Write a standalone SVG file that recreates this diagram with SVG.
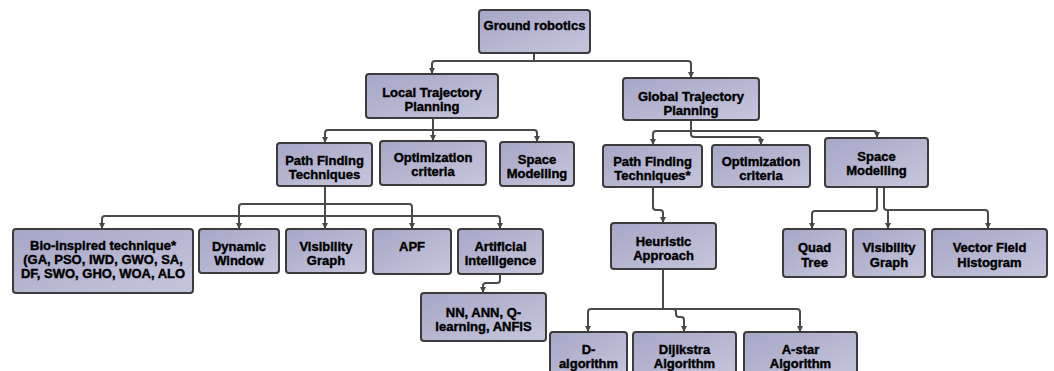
<svg xmlns="http://www.w3.org/2000/svg" width="1054" height="371" viewBox="0 0 1054 371">
<defs>
<linearGradient id="g" x1="0" y1="0" x2="1" y2="1">
<stop offset="0" stop-color="#a6a6c7"/>
<stop offset="1" stop-color="#c6c6dc"/>
</linearGradient>
<marker id="ar" viewBox="0 0 8 8" refX="8" refY="4" markerWidth="6" markerHeight="6" markerUnits="userSpaceOnUse" orient="auto">
<path d="M0,0 L8,4 L0,8 z" fill="#474747"/>
</marker>
<style>
.n rect{fill:url(#g);stroke:#3c3c3c;stroke-width:2}
.n text{font-family:"Liberation Sans",Arial,sans-serif;font-weight:bold;font-size:13px;fill:#000;stroke:#000;stroke-width:0.4;text-anchor:middle}
#connectors path{fill:none;stroke:#4a4a4a;stroke-width:2;stroke-linejoin:round}
#connectors path.a{marker-end:url(#ar)}
</style>
</defs>
<rect width="1054" height="371" fill="#fff"/>
<g id="connectors">
<path d="M534,53 V61"/>
<path class="a" d="M534,61 H435 Q432,61 432,64 V74"/>
<path class="a" d="M534,61 H688 Q691,61 691,64 V78"/>
<path class="a" d="M433,118 V141"/>
<path class="a" d="M433,130 H328 Q325,130 325,133 V143"/>
<path class="a" d="M433,130 H534 Q537,130 537,133 V142"/>
<path class="a" d="M691,120 V134 Q691,137 694,137 H758 Q761,137 761,140 V145"/>
<path class="a" d="M691,131 H656 Q653,131 653,134 V145"/>
<path class="a" d="M691,131 H874 Q877,131 877,134 V138"/>
<path class="a" d="M325,186 V229"/>
<path class="a" d="M325,204 H242 Q239,204 239,207 V229"/>
<path class="a" d="M325,204 H409 Q412,204 412,207 V229"/>
<path class="a" d="M325,216 H105 Q102,216 102,219 V229"/>
<path class="a" d="M325,216 H497 Q500,216 500,219 V229"/>
<path class="a" d="M500,274 V280 Q500,283 497,283 H486 Q483,283 483,286 V293"/>
<path class="a" d="M653,187 V207 Q653,210 656,210 H660 Q663,210 663,213 V223"/>
<path class="a" d="M663,269 V309 H591 Q588,309 588,312 V332"/>
<path class="a" d="M663,309 H673 Q676,309 676,312 V314 Q676,317 679,317 H681 Q684,317 684,320 V332"/>
<path class="a" d="M663,309 H797 Q800,309 800,312 V332"/>
<path class="a" d="M877,187 V208 Q877,211 874,211 H815 Q812,211 812,214 V229"/>
<path class="a" d="M884,187 V207 Q884,210 887,210 H985 Q988,210 988,213 V229"/>
<path class="a" d="M888,210 V229"/>
</g>
<g id="ground" class="n"><rect x="479" y="10" width="111" height="43" rx="3"/><text x="534.5" y="30">Ground robotics</text></g>
<g id="local" class="n"><rect x="366" y="74" width="132" height="44" rx="3"/><text x="432" y="97">Local Trajectory</text><text x="432" y="111">Planning</text></g>
<g id="global" class="n"><rect x="623" y="78" width="136" height="42" rx="3"/><text x="691" y="101">Global Trajectory</text><text x="691" y="115">Planning</text></g>
<g id="pft_local" class="n"><rect x="277" y="143" width="95" height="43" rx="3"/><text x="324.5" y="165">Path Finding</text><text x="324.5" y="179">Techniques</text></g>
<g id="opt_local" class="n"><rect x="380" y="141" width="106" height="44" rx="3"/><text x="433" y="162">Optimization</text><text x="433" y="176">criteria</text></g>
<g id="sm_local" class="n"><rect x="500" y="142" width="74" height="44" rx="3"/><text x="537" y="164">Space</text><text x="537" y="178">Modelling</text></g>
<g id="pft_global" class="n"><rect x="603" y="145" width="99" height="42" rx="3"/><text x="652.5" y="166">Path Finding</text><text x="652.5" y="180">Techniques*</text></g>
<g id="opt_global" class="n"><rect x="712" y="145" width="98" height="42" rx="3"/><text x="761" y="166">Optimization</text><text x="761" y="180">criteria</text></g>
<g id="sm_global" class="n"><rect x="825" y="138" width="103" height="49" rx="3"/><text x="876.5" y="161">Space</text><text x="876.5" y="175">Modelling</text></g>
<g id="bio" class="n"><rect x="13" y="229" width="180" height="64" rx="3"/><text x="103" y="250">Bio-inspired technique*</text><text x="103" y="264">(GA, PSO, IWD, GWO, SA,</text><text x="103" y="278">DF, SWO, GHO, WOA, ALO</text></g>
<g id="dw" class="n"><rect x="199" y="229" width="80" height="44" rx="3"/><text x="239" y="251">Dynamic</text><text x="239" y="265">Window</text></g>
<g id="vg_local" class="n"><rect x="286" y="229" width="80" height="44" rx="3"/><text x="326" y="251">Visibility</text><text x="326" y="265">Graph</text></g>
<g id="apf" class="n"><rect x="373" y="229" width="78" height="45" rx="3"/><text x="412" y="251">APF</text></g>
<g id="ai" class="n"><rect x="458" y="229" width="85" height="45" rx="3"/><text x="500.5" y="251">Artificial</text><text x="500.5" y="265">intelligence</text></g>
<g id="nn" class="n"><rect x="421" y="293" width="125" height="48" rx="3"/><text x="483.5" y="317">NN, ANN, Q-</text><text x="483.5" y="331">learning, ANFIS</text></g>
<g id="heuristic" class="n"><rect x="611" y="223" width="105" height="46" rx="3"/><text x="663.5" y="246">Heuristic</text><text x="663.5" y="260">Approach</text></g>
<g id="quad" class="n"><rect x="783" y="229" width="63" height="48" rx="3"/><text x="814.5" y="252">Quad</text><text x="814.5" y="267">Tree</text></g>
<g id="vg_global" class="n"><rect x="853" y="229" width="72" height="48" rx="3"/><text x="889" y="252">Visibility</text><text x="889" y="267">Graph</text></g>
<g id="vfh" class="n"><rect x="932" y="229" width="115" height="48" rx="3"/><text x="989.5" y="252">Vector Field</text><text x="989.5" y="267">Histogram</text></g>
<g id="dalg" class="n"><rect x="550" y="332" width="77" height="48" rx="3"/><text x="588.5" y="354">D-</text><text x="588.5" y="368">algorithm</text></g>
<g id="dijkstra" class="n"><rect x="633" y="332" width="103" height="48" rx="3"/><text x="684.5" y="354">Dijikstra</text><text x="684.5" y="368">Algorithm</text></g>
<g id="astar" class="n"><rect x="744" y="332" width="113" height="48" rx="3"/><text x="800.5" y="354">A-star</text><text x="800.5" y="368">Algorithm</text></g>
</svg>
